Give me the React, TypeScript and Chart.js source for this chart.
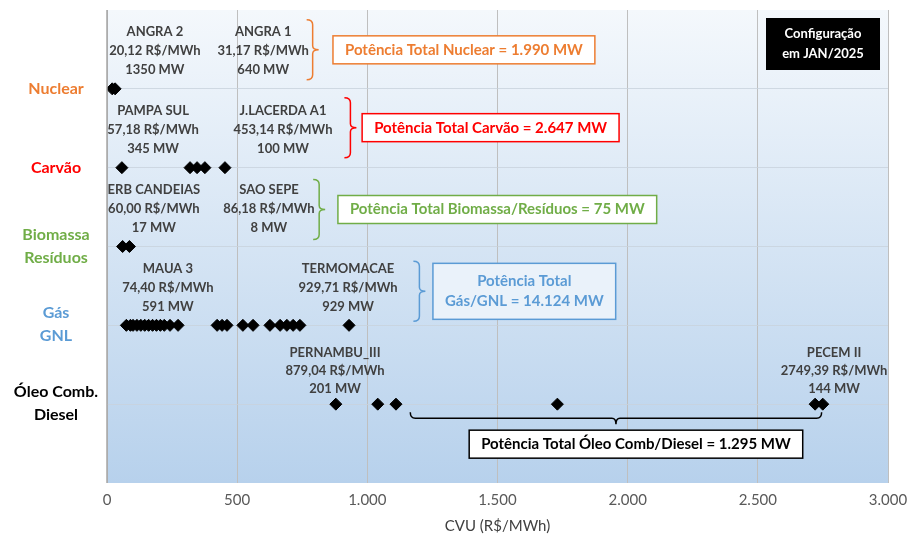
import React, { useEffect, useRef } from "react";
import { Chart, registerables } from "chart.js";
Chart.register(...registerables);

const categories = ["Nuclear", "Carvão", "Biomassa\nResíduos", "Gás\nGNL", "Óleo Comb.\nDiesel"];
const categoryColors = ["#ED7D31", "#FF0000", "#70AD47", "#5B9BD5", "#000000"];
const rows = [5, 4, 3, 2, 1];
const nuclear = [20.12, 31.17];
const carvao = [57.18, 319, 346, 376, 453.14];
const biomassa = [60.0, 86.18];
const gas = [74.4, 90, 100, 115, 130, 145, 160, 175, 190, 205, 220, 242, 273, 423, 442, 461, 522, 561, 626, 665, 691, 715, 741, 929.71];
const oleo = [879.04, 1040, 1110, 1730, 2720, 2749.39];
const xTicks = [0, 500, 1000, 1500, 2000, 2500, 3000];

const plantLabels: [number, number, string[]][] = [
  [5, 184, ["ANGRA 2", "20,12 R$/MWh", "1350 MW"]],
  [5, 600, ["ANGRA 1", "31,17 R$/MWh", "640 MW"]],
  [4, 177, ["PAMPA SUL", "57,18 R$/MWh", "345 MW"]],
  [4, 676, ["J.LACERDA A1", "453,14 R$/MWh", "100 MW"]],
  [3, 180, ["ERB CANDEIAS", "60,00 R$/MWh", "17 MW"]],
  [3, 622, ["SAO SEPE", "86,18 R$/MWh", "8 MW"]],
  [2, 234, ["MAUA 3", "74,40 R$/MWh", "591 MW"]],
  [2, 926, ["TERMOMACAE", "929,71 R$/MWh", "929 MW"]],
];
const oilLabels: [number, string[]][] = [
  [876, ["PERNAMBU_III", "879,04 R$/MWh", "201 MW"]],
  [2793, ["PECEM II", "2749,39 R$/MWh", "144 MW"]],
];
// totals: [row, bracket x, box left x, lines, color, vertical offset px]
const totals: [number, number, number, string[], string, number][] = [
  [5, 790, 868, ["Potência Total Nuclear = 1.990 MW"], "#ED7D31", -39],
  [4, 935, 980, ["Potência Total Carvão = 2.647 MW"], "#FF0000", -40],
  [3, 815, 887, ["Potência Total Biomassa/Resíduos = 75 MW"], "#70AD47", -37],
  [2, 1200, 1252, ["Potência Total", "Gás/GNL = 14.124 MW"], "#5B9BD5", -34],
];
const oilTotal = { from: 1165, to: 2745, text: "Potência Total Óleo Comb/Diesel = 1.295 MW" };

const F = "Lato, 'Open Sans', sans-serif";

const annot = {
  id: "annot",
  beforeDraw(chart: any) {
    const { ctx, chartArea: a } = chart;
    const g = ctx.createLinearGradient(0, a.top, 0, a.bottom);
    g.addColorStop(0, "#F4F8FC");
    g.addColorStop(1, "#B7D1EC");
    ctx.save();
    ctx.fillStyle = g;
    ctx.fillRect(a.left, a.top, a.right - a.left, a.bottom - a.top);
    ctx.restore();
  },
  afterDraw(chart: any) {
    const { ctx, chartArea: a } = chart;
    const xs = chart.scales.x, ys = chart.scales.y;
    const X = (v: number) => xs.getPixelForValue(v);
    const Y = (v: number) => ys.getPixelForValue(v);
    ctx.save();
    ctx.strokeStyle = "#A6A6A6"; ctx.lineWidth = 1.5;
    ctx.beginPath(); ctx.moveTo(a.left, a.top); ctx.lineTo(a.left, a.bottom); ctx.stroke();
    ctx.textAlign = "center"; ctx.textBaseline = "middle";
    ctx.font = `bold 16px ${F}`;
    categories.forEach((c, i) => {
      const lines = c.split("\n");
      const y0 = Y(rows[i]);
      lines.forEach((l, k) => {
        ctx.fillStyle = categoryColors[i];
        const yy = lines.length === 1 ? y0 : y0 - 12 + k * 23;
        ctx.fillText(l, 56, yy);
      });
    });
    ctx.font = `bold 13px ${F}`; ctx.fillStyle = "#404040";
    plantLabels.forEach(([r, x, lines]) => {
      lines.forEach((l, k) => ctx.fillText(l, X(x), Y(r) - 57 + k * 19));
    });
    oilLabels.forEach(([x, lines]) => {
      lines.forEach((l, k) => ctx.fillText(l, X(x), Y(1) - 51 + k * 18));
    });
    totals.forEach(([r, bx, boxX, lines, color, off]) => {
      const yc = Y(r) + off, h = 30;
      const x = X(bx);
      ctx.strokeStyle = color; ctx.lineWidth = 1.5;
      ctx.beginPath();
      ctx.moveTo(x - 6, yc - h); ctx.quadraticCurveTo(x, yc - h, x, yc - h + 5);
      ctx.lineTo(x, yc - 4); ctx.quadraticCurveTo(x, yc, x + 6, yc);
      ctx.quadraticCurveTo(x, yc, x, yc + 4);
      ctx.lineTo(x, yc + h - 5); ctx.quadraticCurveTo(x, yc + h, x - 6, yc + h);
      ctx.stroke();
      ctx.font = `bold 15px ${F}`;
      const w = Math.max(...lines.map((l) => ctx.measureText(l).width)) + 24;
      const bh = lines.length === 1 ? 28 : 56;
      const left = X(boxX);
      ctx.fillStyle = lines.length === 1 ? "#FFFFFF" : "#EAF2FA";
      ctx.fillRect(left, yc - bh / 2, w, bh);
      ctx.strokeRect(left, yc - bh / 2, w, bh);
      ctx.fillStyle = color;
      lines.forEach((l, k) => ctx.fillText(l, left + w / 2, yc - (lines.length - 1) * 10 + k * 20));
    });
    const x1 = X(oilTotal.from), x2 = X(oilTotal.to), xm = (x1 + x2) / 2, yb = Y(1) + 8;
    ctx.strokeStyle = "#000"; ctx.lineWidth = 1.5;
    ctx.beginPath();
    ctx.moveTo(x1, yb); ctx.quadraticCurveTo(x1, yb + 6, x1 + 5, yb + 6);
    ctx.lineTo(xm - 4, yb + 6); ctx.quadraticCurveTo(xm, yb + 6, xm, yb + 12);
    ctx.quadraticCurveTo(xm, yb + 6, xm + 4, yb + 6);
    ctx.lineTo(x2 - 5, yb + 6); ctx.quadraticCurveTo(x2, yb + 6, x2, yb);
    ctx.stroke();
    ctx.font = `bold 15px ${F}`;
    const ow = ctx.measureText(oilTotal.text).width + 24;
    const cx = xm + 20;
    ctx.fillStyle = "#fff";
    ctx.fillRect(cx - ow / 2, yb + 18, ow, 28);
    ctx.strokeRect(cx - ow / 2, yb + 18, ow, 28);
    ctx.fillStyle = "#000";
    ctx.fillText(oilTotal.text, cx, yb + 32);
    ctx.fillStyle = "#000";
    ctx.fillRect(a.right - 122, a.top + 8, 114, 52);
    ctx.fillStyle = "#fff"; ctx.font = `bold 13px ${F}`;
    ctx.fillText("Configuração", a.right - 65, a.top + 24);
    ctx.fillText("em JAN/2025", a.right - 65, a.top + 44);
    ctx.restore();
  },
};

export default function App() {
  const ref = useRef<HTMLCanvasElement>(null);
  useEffect(() => {
    document.body.style.margin = "0";
    const mk = (xs: number[], r: number) => xs.map((x) => ({ x, y: r }));
    const series = [nuclear, carvao, biomassa, gas, oleo];
    const chart = new Chart(ref.current!, {
      type: "scatter",
      data: {
        datasets: series.map((s, i) => ({
          data: mk(s, rows[i]),
          pointStyle: "rectRot",
          pointRadius: 6,
          backgroundColor: "#000",
          borderColor: "#000",
        })),
      },
      options: {
        animation: false,
        responsive: false,
        layout: { padding: { left: 107, right: 32, top: 10, bottom: 2 } },
        plugins: { legend: { display: false }, tooltip: { enabled: false } },
        scales: {
          x: {
            min: 0, max: 3000,
            afterBuildTicks: (s: any) => { s.ticks = xTicks.map((v) => ({ value: v })); },
            grid: { color: "#BFBFBF", drawTicks: false },
            border: { display: false },
            ticks: {
              padding: 8,
              color: "#595959", font: { size: 15, family: F },
              callback: (v: any) => Number(v).toLocaleString("pt-BR"),
            },
            title: { display: true, text: "CVU (R$/MWh)", color: "#404040", font: { size: 15, family: F }, padding: { top: 0, bottom: 0 } },
          },
          y: {
            display: true, min: 0, max: 6,
            ticks: { display: false, stepSize: 1 },
            grid: { color: (c: any) => (c.tick.value >= 1 && c.tick.value <= 5 ? "rgba(200,210,220,0.8)" : "transparent"), drawTicks: false },
            border: { display: false },
          },
        },
      },
      plugins: [annot],
    });
    return () => chart.destroy();
  }, []);
  return <canvas ref={ref} width={920} height={537} style={{ display: "block" }} />;
}
